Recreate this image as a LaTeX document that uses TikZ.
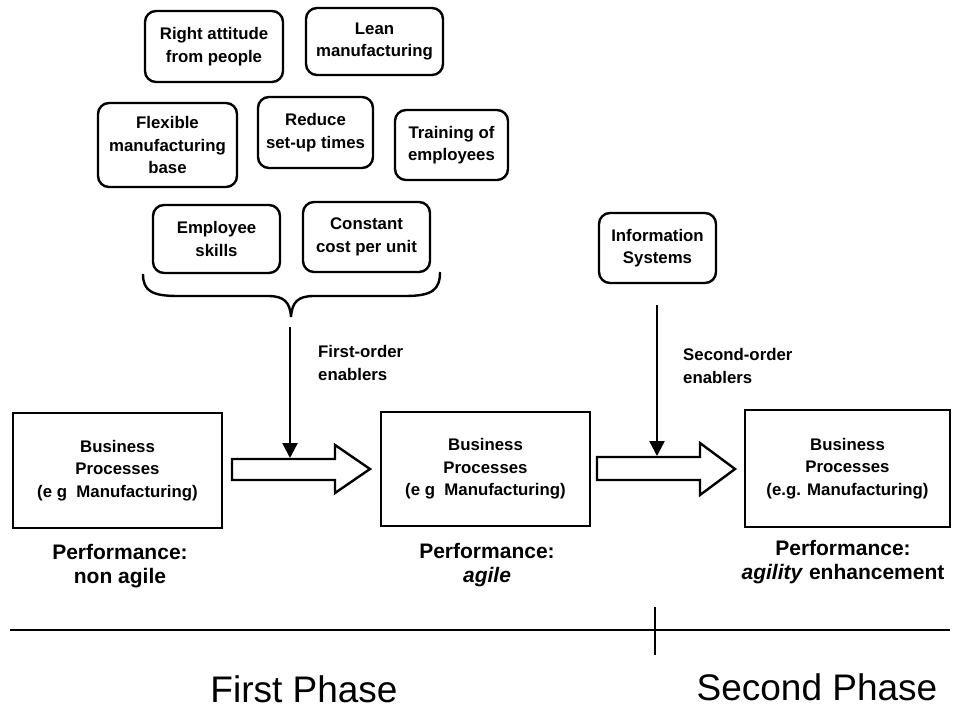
\documentclass[tikz,border=0pt]{standalone}
\usepackage{fontspec}
\setmainfont{Liberation Sans}
\usetikzlibrary{arrows.meta}

\newcommand\boxfont{\fontsize{16.8}{22.5}\selectfont\bfseries}
\newcommand\perffont{\fontsize{21}{23.5}\selectfont\bfseries}
\newcommand\phasefont{\fontsize{37}{40}\selectfont}

\tikzset{
  idea/.style={draw, line width=2.4pt, rounded corners=11pt, align=center,
    inner sep=0pt, font=\boxfont},
  proc/.style={draw, line width=2.4pt, align=center, inner sep=0pt,
    font=\boxfont, minimum width=209pt, minimum height=115pt},
  perf/.style={align=center, font=\perffont, inner sep=0pt},
  lbl/.style={align=left, font=\boxfont, inner sep=0pt, anchor=west},
  phase/.style={font=\phasefont, inner sep=0pt},
  enab/.style={line width=2.4pt, -{Triangle[length=15pt,width=15pt]}},
  bigarrow/.style={draw, line width=2.4pt, line join=miter, fill=white},
  rule/.style={line width=2.4pt},
}

\begin{document}
\begin{tikzpicture}[x=1pt,y=-1pt]
\useasboundingbox (0,0) rectangle (955,709);

% first-order enablers
\node[idea, minimum width=138pt, minimum height=71pt] (attitude) at (214,46.5) {Right attitude\\from people};
\node[idea, minimum width=137pt, minimum height=67pt] (lean) at (374.5,41.5) {Lean\\manufacturing};
\node[idea, minimum width=139pt, minimum height=84pt] (flexible) at (167.5,145) {Flexible\\manufacturing\\base};
\node[idea, minimum width=115pt, minimum height=71pt] (setup) at (315.5,132.5) {Reduce\\set-up times};
\node[idea, minimum width=113pt, minimum height=70pt] (training) at (451.5,145) {Training of\\employees};
\node[idea, minimum width=127pt, minimum height=68pt] (skills) at (216.5,239) {Employee\\skills};
\node[idea, minimum width=127pt, minimum height=70pt] (cost) at (366.5,237) {Constant\\cost per unit};

% second-order enabler
\node[idea, minimum width=117pt, minimum height=70pt] (infosys) at (657.5,248) {Information\\Systems};

% brace gathering the first-order enablers
\coordinate (braceL) at (143,274);
\coordinate (braceR) at (440,272);
\coordinate (braceTip) at (291,317);
\draw[rule] (braceL) .. controls (143,291) and (152,296) .. (178,296)
  -- (268,296) .. controls (284,296) and (290,302) .. (braceTip)
  .. controls (292,302) and (298,296) .. (314,296)
  -- (405,296) .. controls (432,296) and (440,290) .. (braceR);

% business processes
\node[proc] (bp1) at (117.5,470.5) {Business\\Processes\\(e g\ \ Manufacturing)};
\node[proc, minimum height=114pt] (bp2) at (485.5,469) {Business\\Processes\\(e g\ \ Manufacturing)};
\node[proc, minimum width=205pt, minimum height=117pt] (bp3) at (847.5,468.5) {Business\\Processes\\(e.g. Manufacturing)};

\node[perf] (perf1) at (120,566) {Performance:\\non agile};
\node[perf] (perf2) at (487,565) {Performance:\\\textit{agile}};
\node[perf] (perf3) at (843,562) {Performance:\\\textit{agility} enhancement};

% transition arrows
\draw[bigarrow] (232,459) coordinate (shaft1) -- (335,459) -- (335,445) -- (370,469)
  -- (335,493) -- (335,480) -- (232,480) -- cycle;
\draw[bigarrow] (597,457) coordinate (shaft2) -- (700,457) -- (700,443) -- (735,469)
  -- (700,495) -- (700,480) -- (597,480) -- cycle;
\coordinate (hit1) at (290,458);
\coordinate (hit2) at (657,456);

% enabler arrows
\coordinate (src1) at (290,327);
\coordinate (src2) at (657,305);
\draw[enab] (src1) -- (hit1);
\draw[enab] (src2) -- (hit2);
\node[lbl] (lbl1) at (318,363) {First-order\\enablers};
\node[lbl] (lbl2) at (683,366) {Second-order\\enablers};

% phase time line
\coordinate (lineL) at (10,630);
\coordinate (lineR) at (950,630);
\coordinate (tickT) at (655,607);
\coordinate (tickB) at (655,655);
\draw[rule] (lineL) -- (lineR);
\draw[rule] (tickT) -- (tickB);
\node[phase] (ph1) at (304,689) {First Phase};
\node[phase] (ph2) at (817,687) {Second Phase};
\end{tikzpicture}
\end{document}
